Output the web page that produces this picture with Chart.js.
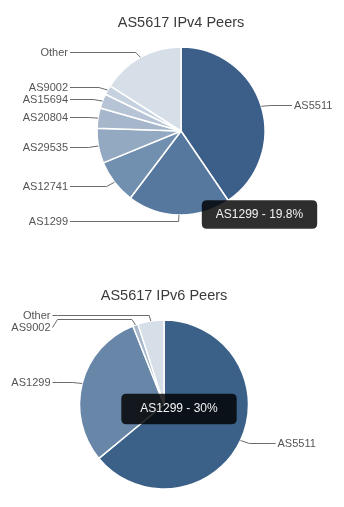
<!DOCTYPE html>
<html>
<head>
<meta charset="utf-8">
<script src="https://cdn.jsdelivr.net/npm/chart.js@4.4.1/dist/chart.umd.min.js"></script>
<style>
    html, body { margin: 0; padding: 0; background: #fff; }
    canvas { display: block; }
</style>
</head>
<body>
<canvas id="peers-v4" width="344" height="254"></canvas>
<canvas id="peers-v6" width="344" height="253"></canvas>
<script>
    // IPv4 peer share (%), clockwise from 12 o'clock
    const V4_PEERS = ['AS5511', 'AS1299', 'AS12741', 'AS29535', 'AS20804', 'AS15694', 'AS9002', 'Other'];
    const V4_SHARE = [40.5, 19.8, 8.5, 6.7, 3.9, 2.8, 1.8, 16.0];
    const V4_COLORS = ['#3b5f88', '#56779e', '#7190b0', '#93a8c1', '#a6b7cc', '#b6c4d6', '#c6d1df', '#d6dee8'];

    // IPv6 peer share (%)
    const V6_PEERS = ['AS5511', 'AS1299', 'AS9002', 'Other'];
    const V6_SHARE = [64, 30, 1, 5];
    const V6_COLORS = ['#3b6189', '#6786a8', '#a8b8cc', '#d6dee8'];

    const FONT = '"Liberation Sans", Arial, sans-serif';

    // tooltip follows the pointer position that is passed in
    Chart.Tooltip.positioners.pointer = function (items, eventPosition) {
        return eventPosition;
    };

    // labels outside the pie with elbow connectors
    const calloutLabels = {
        id: 'calloutLabels',
        afterDatasetsDraw: function (chart) {
            const arcs = chart.getDatasetMeta(0).data;
            if (!arcs.length) {
                return;
            }
            const cx = arcs[0].x;
            const cy = arcs[0].y;
            const r = arcs[0].outerRadius;

            const items = arcs.map(function (arc, i) {
                const mid = (arc.startAngle + arc.endAngle) / 2;
                const cos = Math.cos(mid);
                const sin = Math.sin(mid);
                const want = Math.round(cy + (r + 6) * sin) + 0.5;
                return { label: chart.data.labels[i], right: cos >= 0, cos: cos, sin: sin, want: want, y: want };
            });

            [true, false].forEach(function (side) {
                const group = items.filter(function (it) {
                    return it.right === side;
                }).sort(function (a, b) {
                    return a.want - b.want;
                });
                for (let k = 1; k < group.length; k += 1) {
                    if (group[k].y - group[k - 1].y < 12) {
                        group[k].y = group[k - 1].y + 12;
                    }
                }
            });

            const ctx = chart.ctx;
            ctx.save();
            ctx.strokeStyle = '#6b6b6b';
            ctx.lineWidth = 1;
            ctx.fillStyle = '#555';
            ctx.font = '11px ' + FONT;
            ctx.textBaseline = 'middle';
            items.forEach(function (it) {
                const dir = it.right ? 1 : -1;
                const endX = cx + dir * (r + 27);
                ctx.beginPath();
                ctx.moveTo(cx + r * it.cos, cy + r * it.sin);
                ctx.lineTo(cx + (r + 10) * it.cos, it.want);
                ctx.lineTo(endX - dir * 5, it.want);
                ctx.lineTo(endX, it.y);
                ctx.stroke();
                ctx.textAlign = it.right ? 'left' : 'right';
                ctx.fillText(it.label, endX + dir * 2, it.y);
            });
            ctx.restore();
        },
    };

    function pieChart(canvasId, title, labels, values, colors, layout, tip) {
        const chart = new Chart(document.getElementById(canvasId), {
            type: 'pie',
            data: {
                labels: labels,
                datasets: [
                    {
                        data: values,
                        backgroundColor: colors,
                        hoverBackgroundColor: colors,
                        borderColor: '#fff',
                        hoverBorderColor: '#fff',
                        borderWidth: 1.5,
                        hoverOffset: 0,
                    },
                ],
            },
            options: {
                responsive: false,
                animation: false,
                events: [],
                layout: { padding: layout.padding },
                plugins: {
                    legend: { display: false },
                    title: {
                        display: true,
                        text: title,
                        color: '#3a3a3a',
                        font: { family: FONT, size: 14.5, weight: 'normal' },
                        padding: layout.titlePadding,
                    },
                    tooltip: {
                        position: 'pointer',
                        xAlign: 'center',
                        yAlign: 'center',
                        caretSize: 0,
                        displayColors: false,
                        backgroundColor: 'rgba(0, 0, 0, 0.82)',
                        bodyColor: '#f2f2f2',
                        bodyFont: { family: FONT, size: 12 },
                        padding: tip.padding,
                        cornerRadius: 5,
                        callbacks: {
                            title: function () {
                                return '';
                            },
                            label: function (item) {
                                const total = item.dataset.data.reduce(function (a, b) {
                                    return a + b;
                                }, 0);
                                const pct = Math.round((item.raw / total) * 1000) / 10;
                                return item.label + ' - ' + pct + '%';
                            },
                        },
                    },
                },
            },
            plugins: [calloutLabels],
        });

        chart.tooltip.setActiveElements([{ datasetIndex: 0, index: tip.index }], tip.at);
        chart.update();
        return chart;
    }

    pieChart('peers-v4', 'AS5617 IPv4 Peers', V4_PEERS, V4_SHARE, V4_COLORS,
        {
            padding: { top: 0, bottom: 38.25, left: 96.25, right: 78.25 },
            titlePadding: { top: 14, bottom: 14.85 },
        },
        { index: 1, at: { x: 259.5, y: 214.5 }, padding: { x: 14, y: 7 } });

    pieChart('peers-v6', 'AS5617 IPv6 Peers', V6_PEERS, V6_SHARE, V6_COLORS,
        {
            padding: { top: 0, bottom: 17.25, left: 78.75, right: 94.75 },
            titlePadding: { top: 33.3, bottom: 14.55 },
        },
        { index: 1, at: { x: 179, y: 155 }, padding: { x: 19, y: 8 } });
</script>
</body>
</html>
